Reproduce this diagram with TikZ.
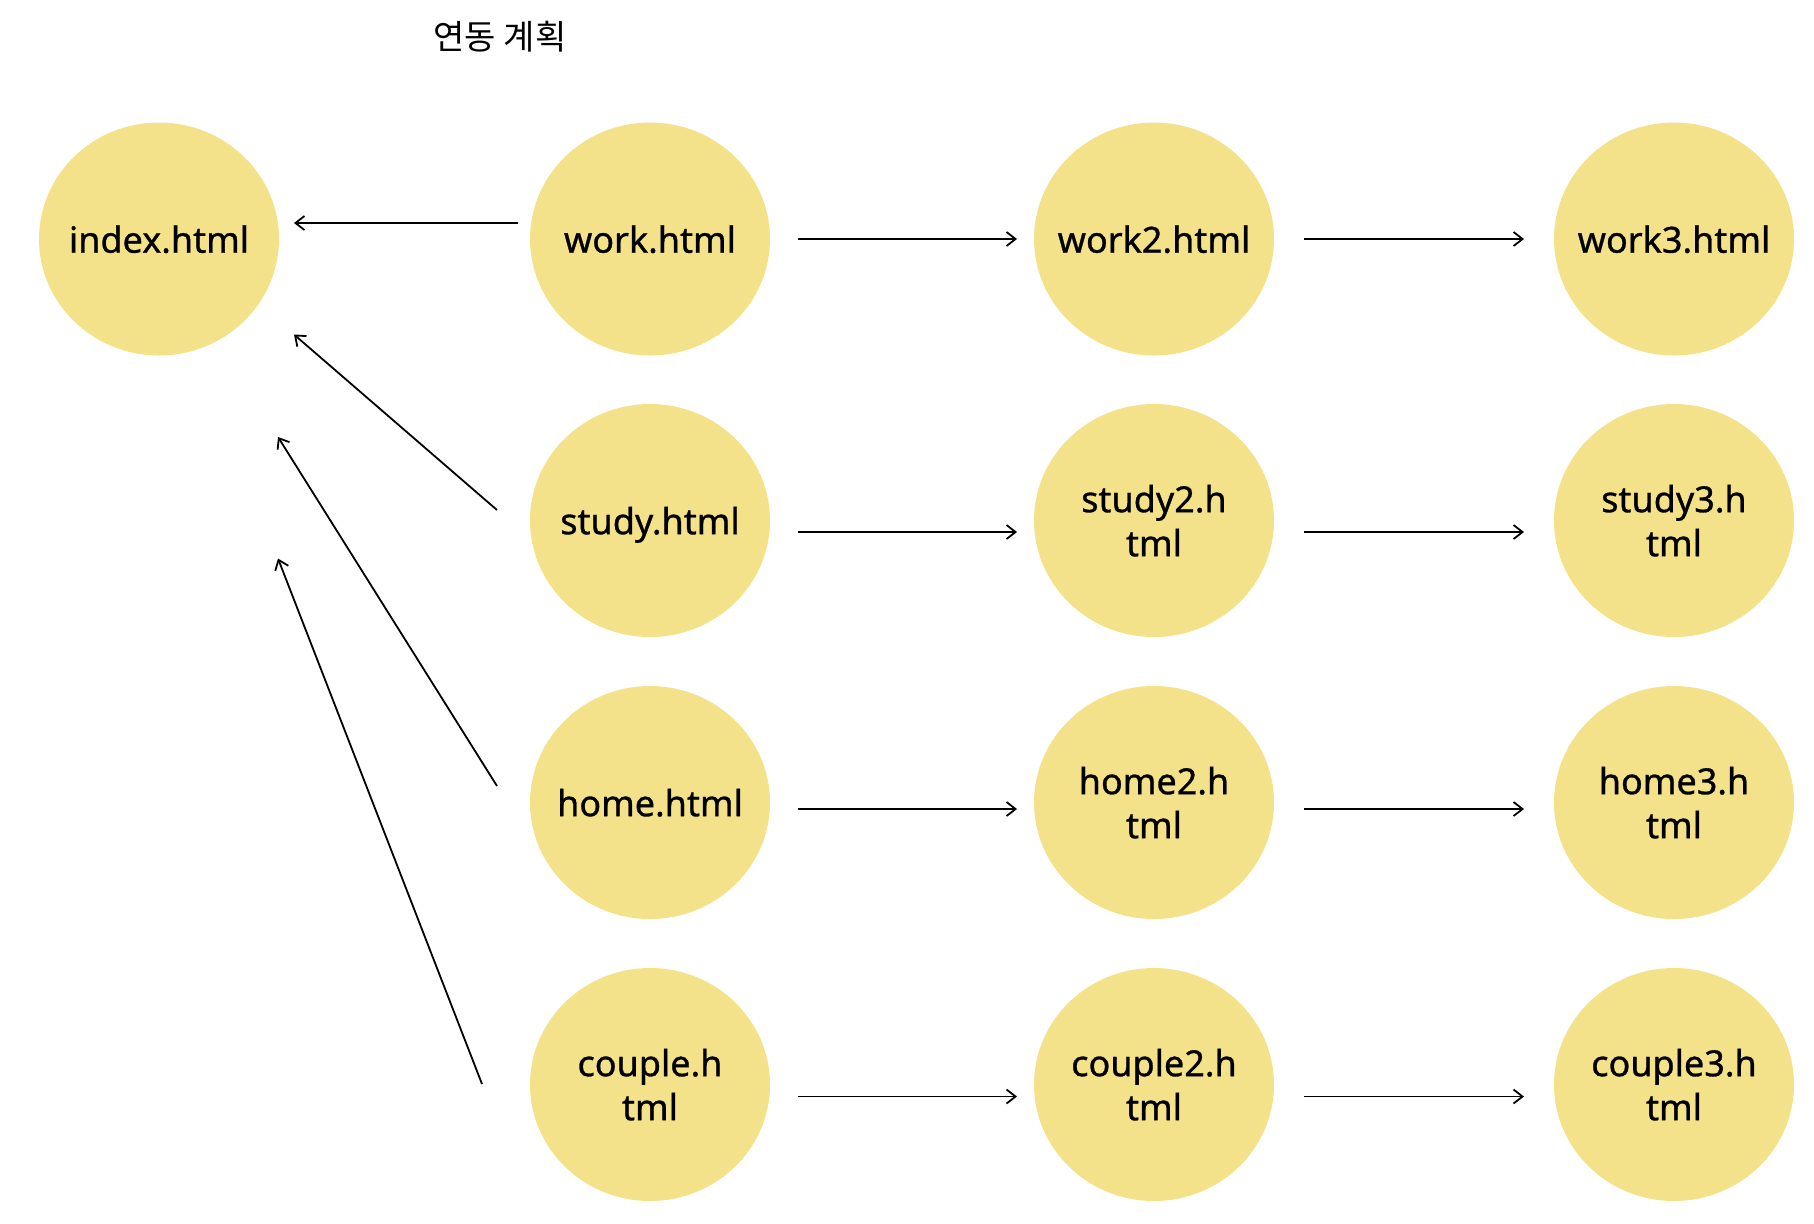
\documentclass[tikz,border=0pt]{standalone}
\usepackage{fontspec}
\setmainfont{Noto Sans}
\newfontfamily\nodefont{Noto Sans}[FakeBold=0.8]
\newfontfamily\krfont{Noto Sans CJK KR}
\usetikzlibrary{shapes.geometric,arrows.meta,calc}
\definecolor{nodefill}{HTML}{F4E28A}
\begin{document}
\begin{tikzpicture}[x=0.5pt,y=-0.5pt,
  pagenode/.style={ellipse, fill=nodefill, draw=none, minimum width=120pt, minimum height=116.5pt,
    inner xsep=-12pt, inner ysep=0pt, align=center, font=\nodefont\fontsize{18}{22}\selectfont, text depth=0pt},
  arr/.style={-{Straight Barb[length=4.5pt,width=7pt]}, line width=0.9pt},
  titlestyle/.style={font=\krfont\fontsize{17}{20}\selectfont, inner sep=0pt}]
\useasboundingbox (0,0) rectangle (1814,1223);
\node[titlestyle] (title) at (500,37) {연동 계획};
\node[pagenode] (index) at (159,239) {index.html};
\node[pagenode] (work) at (650,239) {work.html};
\node[pagenode] (work2) at (1154,239) {work2.html};
\node[pagenode] (work3) at (1674,239) {work3.html};
\node[pagenode] (study) at (650,520.5) {study.html};
\node[pagenode] (study2) at (1154,520.5) {study2.h\\tml};
\node[pagenode] (study3) at (1674,520.5) {study3.h\\tml};
\node[pagenode] (home) at (650,802.5) {home.html};
\node[pagenode] (home2) at (1154,802.5) {home2.h\\tml};
\node[pagenode] (home3) at (1674,802.5) {home3.h\\tml};
\node[pagenode] (couple) at (650,1084.5) {couple.h\\tml};
\node[pagenode] (couple2) at (1154,1084.5) {couple2.h\\tml};
\node[pagenode] (couple3) at (1674,1084.5) {couple3.h\\tml};
% arrows to index
\draw[arr] ($(work)+(-132,-16)$) -- ($(index)+(135,-16)$);
\draw[arr] ($(study)+(-153,-10.5)$) -- ($(index)+(135,95.5)$);
\draw[arr] ($(home)+(-153,-16.5)$) -- ($(index)+(119,198)$);
\draw[arr] ($(couple)+(-168,-0.5)$) -- ($(index)+(119,319.5)$);
% row arrows
\draw[arr] ($(work)+(148,0)$) -- ($(work2)+(-137,0)$);
\draw[arr] ($(work2)+(150,0)$) -- ($(work3)+(-150,0)$);
\draw[arr] ($(study)+(148,11.5)$) -- ($(study2)+(-137,11.5)$);
\draw[arr] ($(study2)+(150,11.5)$) -- ($(study3)+(-150,11.5)$);
\draw[arr] ($(home)+(148,6.5)$) -- ($(home2)+(-137,6.5)$);
\draw[arr] ($(home2)+(150,6.5)$) -- ($(home3)+(-150,6.5)$);
\draw[arr] ($(couple)+(148,12)$) -- ($(couple2)+(-137,12)$);
\draw[arr] ($(couple2)+(150,12)$) -- ($(couple3)+(-150,12)$);
\end{tikzpicture}
\end{document}
